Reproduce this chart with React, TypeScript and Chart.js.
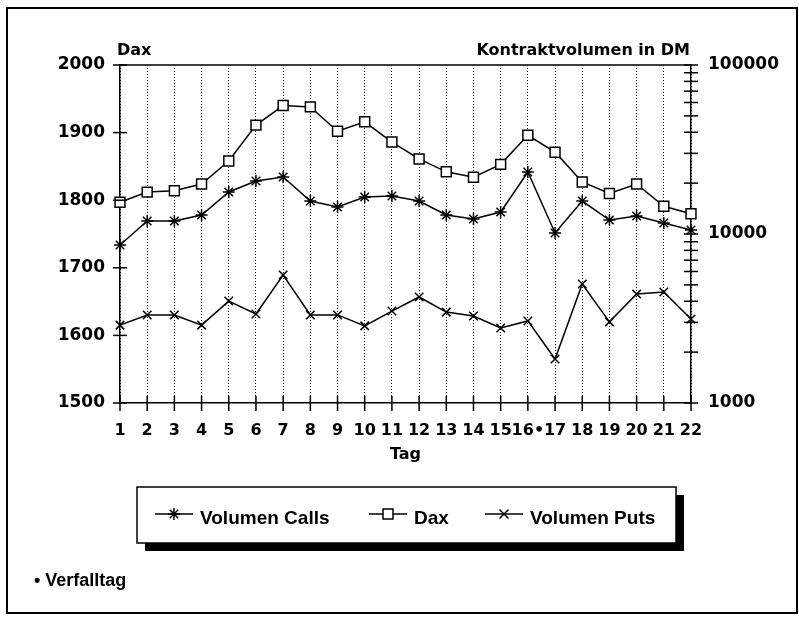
import React, { useEffect, useRef } from 'react';
import { Chart, registerables } from 'chart.js';

Chart.register(...registerables);

const days = ['1', '2', '3', '4', '5', '6', '7', '8', '9', '10', '11', '12', '13', '14', '15', '16•', '17', '18', '19', '20', '21', '22'];
const daxValues = [1797, 1812, 1814, 1824, 1858, 1911, 1940, 1938, 1902, 1916, 1886, 1861, 1842, 1834, 1853, 1896, 1871, 1827, 1810, 1824, 1791, 1780];
const callsVolume = [8610, 11940, 11940, 12950, 17730, 20590, 21740, 15670, 14450, 16560, 16790, 15670, 12950, 12270, 13490, 23280, 10140, 15670, 12100, 12780, 11610, 10560];
const putsVolume = [2890, 3320, 3320, 2890, 4010, 3360, 5720, 3320, 3320, 2860, 3500, 4240, 3450, 3270, 2780, 3060, 1820, 5060, 3020, 4410, 4540, 3140];
const daxTicks = [1500, 1600, 1700, 1800, 1900, 2000];
const volumeTicks = [1000, 2000, 3000, 4000, 5000, 6000, 7000, 8000, 9000, 10000, 20000, 30000, 40000, 50000, 60000, 70000, 80000, 90000, 100000];
const volumeLabels = [1000, 10000, 100000];
const seriesNames = ['Volumen Calls', 'Dax', 'Volumen Puts'];
const legendOrder = ['Volumen Calls', 'Dax', 'Volumen Puts'];
const footnote = '• Verfalltag';
const leftTitle = 'Dax';
const rightTitle = 'Kontraktvolumen in DM';
const xTitle = 'Tag';

const DIGIT_FONT = '"DejaVu Sans", sans-serif';

function drawMarker(ctx: CanvasRenderingContext2D, style: string, x: number, y: number) {
  ctx.beginPath();
  if (style === 'star') {
    const r = 6;
    for (let k = 0; k < 4; k++) {
      const a = (k * Math.PI) / 4;
      ctx.moveTo(x - Math.cos(a) * r, y - Math.sin(a) * r);
      ctx.lineTo(x + Math.cos(a) * r, y + Math.sin(a) * r);
    }
    ctx.stroke();
  } else if (style === 'rect') {
    ctx.fillStyle = '#fff';
    ctx.fillRect(x - 5, y - 5, 10, 10);
    ctx.strokeRect(x - 5, y - 5, 10, 10);
  } else {
    const r = 4.5;
    ctx.moveTo(x - r, y - r);
    ctx.lineTo(x + r, y + r);
    ctx.moveTo(x - r, y + r);
    ctx.lineTo(x + r, y - r);
    ctx.stroke();
  }
}

const decorPlugin = {
  id: 'decor',
  beforeDraw(chart: any) {
    const { ctx, width, height } = chart;
    ctx.save();
    ctx.fillStyle = '#fff';
    ctx.fillRect(0, 0, width, height);
    ctx.restore();
  },
  afterDraw(chart: any) {
    const { ctx, chartArea: a, scales } = chart;
    const line = (x1: number, y1: number, x2: number, y2: number) => {
      ctx.beginPath();
      ctx.moveTo(x1, y1);
      ctx.lineTo(x2, y2);
      ctx.stroke();
    };
    ctx.save();
    ctx.strokeStyle = '#000';
    ctx.fillStyle = '#000';
    ctx.setLineDash([]);

    // outer frame
    ctx.lineWidth = 2;
    ctx.strokeRect(7, 8, 790, 605);

    // top line of plot
    ctx.lineWidth = 1.5;
    line(a.left, a.top, a.right, a.top);

    // crossing tick marks
    const sx = scales.x;
    sx.ticks.forEach((_t: any, i: number) => {
      const px = sx.getPixelForTick(i);
      line(px, a.bottom - 7, px, a.bottom + 8);
    });
    const sy = scales.y;
    sy.ticks.forEach((t: any) => {
      const py = sy.getPixelForValue(t.value);
      line(a.left - 7, py, a.left + 7, py);
    });
    const sy1 = scales.y1;
    sy1.ticks.forEach((t: any) => {
      const py = sy1.getPixelForValue(t.value);
      line(a.right - 7, py, a.right + 7, py);
    });

    // titles
    ctx.font = 'bold 16px ' + DIGIT_FONT;
    ctx.textBaseline = 'alphabetic';
    ctx.textAlign = 'left';
    ctx.fillText(leftTitle, 117, 55);
    ctx.textAlign = 'right';
    ctx.fillText(rightTitle, 690, 55);
    ctx.textAlign = 'center';
    ctx.fillText(xTitle, (a.left + a.right) / 2, 459);

    // legend box with shadow
    const bx = 137, by = 487, bw = 539, bh = 56;
    ctx.fillStyle = '#000';
    ctx.fillRect(bx + 8, by + 8, bw, bh);
    ctx.fillStyle = '#fff';
    ctx.fillRect(bx, by, bw, bh);
    ctx.lineWidth = 1.5;
    ctx.strokeRect(bx, by, bw, bh);

    const legendX = [155, 369, 485];
    const ly = 514;
    ctx.font = 'bold 19px "Liberation Sans", Arial, sans-serif';
    ctx.textAlign = 'left';
    legendOrder.forEach((name, i) => {
      const ds = chart.data.datasets.find((d: any) => d.label === name);
      const x0 = legendX[i];
      ctx.strokeStyle = '#000';
      ctx.lineWidth = 1.5;
      line(x0, ly, x0 + 38, ly);
      drawMarker(ctx, ds.pointStyle, x0 + 19, ly);
      ctx.fillStyle = '#000';
      ctx.fillText(name, x0 + 45, ly + 10);
    });

    // footnote
    ctx.font = 'bold 18px "Liberation Sans", Arial, sans-serif';
    ctx.fillStyle = '#000';
    ctx.fillText(footnote, 34, 586);

    ctx.restore();
  },
};

export default function App() {
  const ref = useRef<HTMLCanvasElement | null>(null);
  useEffect(() => {
    if (!ref.current) return;
    Chart.defaults.color = '#000';
    Chart.defaults.font.family = DIGIT_FONT;
    Chart.defaults.font.weight = 'bold';
    const chart = new Chart(ref.current, {
      type: 'line',
      data: {
        labels: days,
        datasets: [
          {
            label: seriesNames[0],
            data: callsVolume,
            yAxisID: 'y1',
            borderColor: '#000',
            borderWidth: 1.5,
            pointStyle: 'star',
            pointRadius: 6,
            pointBorderColor: '#000',
            pointBackgroundColor: '#fff',
            pointBorderWidth: 1.5,
            tension: 0,
            clip: false,
          },
          {
            label: seriesNames[1],
            data: daxValues,
            yAxisID: 'y',
            borderColor: '#000',
            borderWidth: 1.5,
            pointStyle: 'rect',
            pointRadius: 7,
            pointBorderColor: '#000',
            pointBackgroundColor: '#fff',
            pointBorderWidth: 1.5,
            tension: 0,
            clip: false,
          },
          {
            label: seriesNames[2],
            data: putsVolume,
            yAxisID: 'y1',
            borderColor: '#000',
            borderWidth: 1.5,
            pointStyle: 'crossRot',
            pointRadius: 6,
            pointBorderColor: '#000',
            pointBackgroundColor: '#fff',
            pointBorderWidth: 1.5,
            tension: 0,
            clip: false,
          },
        ],
      },
      options: {
        responsive: false,
        animation: false,
        events: [],
        layout: { padding: { top: 65, left: 0, right: 0, bottom: 0 } },
        plugins: {
          legend: { display: false },
          tooltip: { enabled: false },
          title: { display: false },
        },
        scales: {
          x: {
            type: 'category',
            offset: false,
            grid: {
              display: true,
              drawOnChartArea: true,
              drawTicks: false,
              color: '#000',
              lineWidth: 1,
            },
            border: { display: true, color: '#000', width: 1.5, dash: [1, 2] },
            ticks: {
              autoSkip: false,
              maxRotation: 0,
              minRotation: 0,
              padding: 18,
              color: '#000',
              font: { family: DIGIT_FONT, size: 16, weight: 'bold' },
            },
            afterFit: (s: any) => {
              s.height = 215;
            },
          },
          y: {
            type: 'linear',
            position: 'left',
            min: 1500,
            max: 2000,
            grid: { display: false, drawTicks: false },
            border: { display: true, color: '#000', width: 1.5 },
            afterBuildTicks: (s: any) => {
              s.ticks = daxTicks.map((v) => ({ value: v }));
            },
            ticks: {
              autoSkip: false,
              padding: 15,
              color: '#000',
              font: { family: DIGIT_FONT, size: 17, weight: 'bold' },
              callback: (v: any) => String(v),
            },
            afterFit: (s: any) => {
              s.width = 120;
            },
          },
          y1: {
            type: 'logarithmic',
            position: 'right',
            min: 1000,
            max: 100000,
            grid: { display: false, drawTicks: false },
            border: { display: true, color: '#000', width: 1.5 },
            afterBuildTicks: (s: any) => {
              s.ticks = volumeTicks.map((v) => ({ value: v, major: volumeLabels.includes(v) }));
            },
            ticks: {
              autoSkip: false,
              padding: 17,
              color: '#000',
              font: { family: DIGIT_FONT, size: 17, weight: 'bold' },
              callback: (v: any) => (volumeLabels.includes(Number(v)) ? String(v) : ''),
            },
            afterFit: (s: any) => {
              s.width = 108;
            },
          },
        },
      },
      plugins: [decorPlugin],
    } as any);
    return () => chart.destroy();
  }, []);

  return (
    <div style={{ position: 'absolute', left: 0, top: 0, width: 799, height: 618, background: '#fff' }}>
      <canvas ref={ref} width={799} height={618} style={{ width: 799, height: 618, display: 'block' }} />
    </div>
  );
}
